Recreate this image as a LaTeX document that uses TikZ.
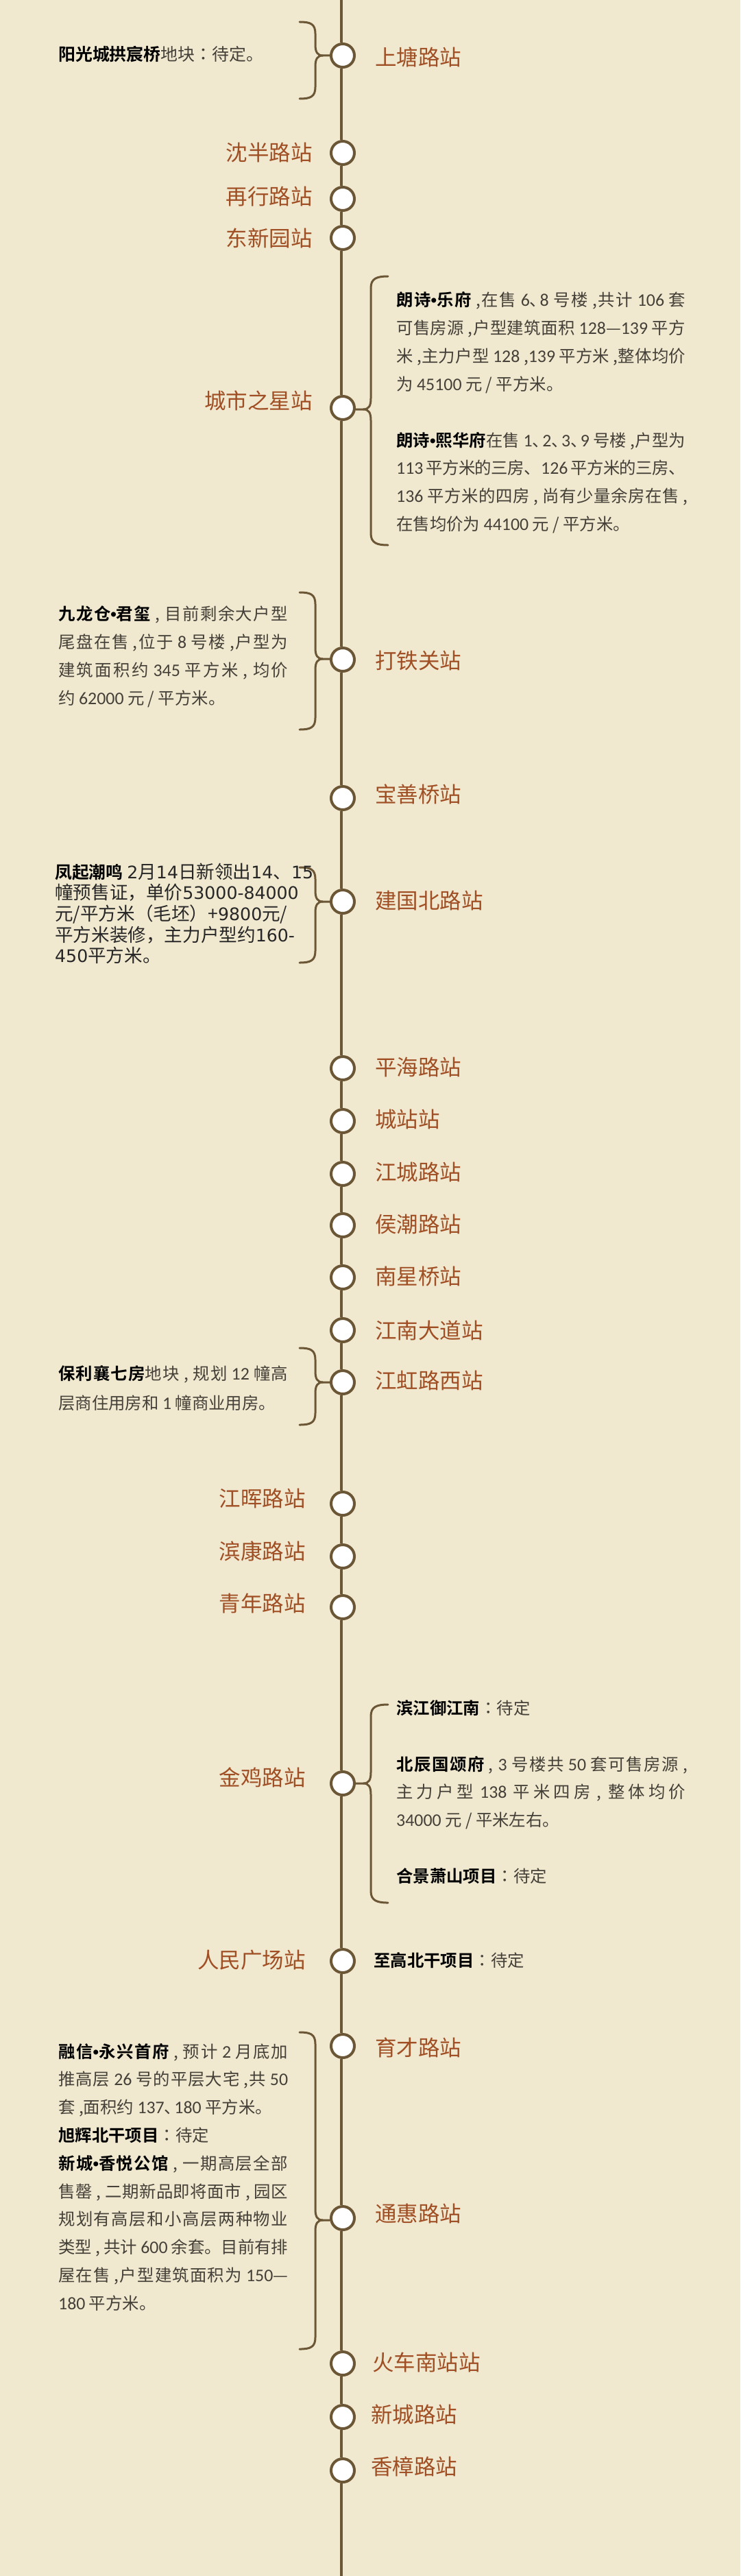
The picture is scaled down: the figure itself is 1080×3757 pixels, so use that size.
\documentclass[tikz,border=0pt]{standalone}
\usepackage{fontspec}
\setmainfont[BoldFont={Noto Sans CJK SC Bold}]{Noto Sans CJK SC}
\newfontfamily\tcfont{Noto Sans CJK TC}
\newfontfamily\carl[Scale=1.06]{Carlito}
\newfontfamily\dvs{DejaVu Sans}
\newfontfamily\libs{Liberation Sans}
\definecolor{bgc}{HTML}{F0E8CF}
\definecolor{linec}{HTML}{6B5636}
\definecolor{labc}{HTML}{A04F25}
\definecolor{txtc}{HTML}{444038}
\XeTeXlinebreaklocale "zh"
\XeTeXlinebreakskip=0pt plus 4pt minus 1pt
\newcommand\cn{{\tcfont ：}}
\newcommand\dg[1]{{\carl #1}}
\newcommand\dk[1]{{\dvs\fontsize{25.2}{31}\selectfont #1}}
\newcommand\bu{{\libs\bfseries •}}
\newcommand\dn{、\kern-.4em }
\newcommand\bd[1]{\textcolor{black}{\textbf{#1}}}
\newcommand\jl[2]{{\hsize=#1pt\parindent=0pt\parfillskip=0pt\leftskip=0pt\rightskip=0pt\tolerance=10000\noindent #2\par}}
\newcommand\pl[1]{\hbox{#1}}
\newcommand\blk[2]{\vtop{\baselineskip=#1pt \lineskiplimit=-100pt #2}}
\hbadness=10000
\tikzset{
  x=1pt,y=-1pt,
  stn/.style={circle,draw=linec,fill=white,line width=4pt,minimum size=34pt,inner sep=0pt},
  spine/.style={draw=linec,line width=3.5pt},
  brc/.style={draw=linec,line width=3pt,line cap=round},
  lab/.style={inner sep=0pt,text=labc,font=\fontsize{31.5}{31.5}\selectfont},
  txt/.style={inner sep=0pt,anchor=base west,text=txtc,font=\fontsize{24.4}{41}\selectfont},
  txtb/.style={inner sep=0pt,anchor=base west,text=black!85,font=\fontsize{26.6}{31}\selectfont},
}
% left label / right label stations: id, circle y, label x, label centre y, text
\newcommand\stL[5]{\node[stn] (#1) at (500,#2) {};\node[lab,anchor=base east] (#1l) at (#3,{#4+11.8}) {#5};}
\newcommand\stR[5]{\node[stn] (#1) at (500,#2) {};\node[lab,anchor=base west] (#1l) at (#3,{#4+11.8}) {#5};}
% brace opening left: station, top, bottom, tip y
\newcommand\braceL[4]{\draw[brc] (437,#2) .. controls +(16,0) and +(0,-14) .. (460,{#2+17}) -- (460,{#4-16})
  .. controls +(0,11) and +(-8,0) .. (471,#4) -- (#1.west |- 0,#4);
  \draw[brc] (471,#4) .. controls +(-8,0) and +(0,-11) .. (460,{#4+16}) -- (460,{#3-17})
  .. controls +(0,14) and +(16,0) .. (437,#3);}
\newcommand\braceR[4]{\draw[brc] (566,#2) .. controls +(-16,0) and +(0,-14) .. (541,{#2+17}) -- (541,{#4-16})
  .. controls +(0,11) and +(8,0) .. (530,#4) -- (#1.east |- 0,#4);
  \draw[brc] (530,#4) .. controls +(8,0) and +(0,-11) .. (541,{#4+16}) -- (541,{#3-17})
  .. controls +(0,14) and +(-16,0) .. (566,#3);}
\begin{document}
\begin{tikzpicture}
\useasboundingbox[fill=bgc] (0,0) rectangle (1080,3757);
\coordinate (top) at (498,0);
\coordinate (bot) at (498,3757);
\stR{s1}{81}{547}{84}{上塘路站}
\stL{s2}{223}{456}{223}{沈半路站}
\stL{s3}{290}{456}{287}{再行路站}
\stL{s4}{347}{456}{348}{东新园站}
\stL{s5}{595}{456}{585}{城市之星站}
\stR{s6}{962}{547}{964}{打铁关站}
\stR{s7}{1164}{547}{1159}{宝善桥站}
\stR{s8}{1315}{547}{1314}{建国北路站}
\stR{s9}{1558}{547}{1557}{平海路站}
\stR{s10}{1635}{547}{1633}{城站站}
\stR{s11}{1712}{547}{1710}{江城路站}
\stR{s12}{1787}{547}{1786}{侯潮路站}
\stR{s13}{1863}{547}{1862}{南星桥站}
\stR{s14}{1940}{547}{1941}{江南大道站}
\stR{s15}{2016}{547}{2014}{江虹路西站}
\stL{s16}{2193}{446}{2186}{江晖路站}
\stL{s17}{2270}{446}{2263}{滨康路站}
\stL{s18}{2344}{446}{2339}{青年路站}
\stL{s19}{2601}{446}{2593}{金鸡路站}
\stL{s20}{2860}{446}{2859}{人民广场站}
\stR{s21}{2984}{547}{2987}{育才路站}
\stR{s22}{3235}{547}{3229}{通惠路站}
\stR{s23}{3447}{543}{3446}{火车南站站}
\stR{s24}{3525}{541}{3522}{新城路站}
\stR{s25}{3603}{541}{3598}{香樟路站}
% spine
\draw[spine] (top) -- ([xshift=-2pt]s1.north);
\foreach \a/\b in {s1/s2,s2/s3,s3/s4,s4/s5,s5/s6,s6/s7,s7/s8,s8/s9,s9/s10,s10/s11,s11/s12,s12/s13,s13/s14,s14/s15,s15/s16,s16/s17,s17/s18,s18/s19,s19/s20,s20/s21,s21/s22,s22/s23,s23/s24,s24/s25}
  \draw[spine] ([xshift=-2pt]\a.south) -- ([xshift=-2pt]\b.north);
\draw[spine] ([xshift=-2pt]s25.south) -- (bot);
% braces
\braceL{s1}{32}{144}{81}
\braceR{s5}{403}{795}{597}
\braceL{s6}{864}{1064}{961}
\braceL{s8}{1265}{1404}{1315}
\braceL{s15}{1966}{2078}{2016}
\braceR{s19}{2486}{2775}{2601}
\braceL{s22}{2964}{3426}{3238}
% texts
\node[txt,font=\fontsize{24.9}{41}\selectfont] (t1) at (85,89) {\bd{阳光城拱宸桥}地块\cn 待定。};
\node[txt] (t2) at (578,446) {\blk{41}{
  \jl{422}{\bd{朗诗\bu 乐府} ,在售 \dg{6}\dn\dg{8} 号楼 ,共计 \dg{106} 套}
  \jl{422}{可售房源 ,户型建筑面积 \dg{128}—\dg{139} 平方}
  \jl{422}{米 ,主力户型 \dg{128} ,\dg{139} 平方米 ,整体均价}
  \pl{为 \dg{45100} 元 / 平方米。}}};
\node[txt] (t3) at (578,651) {\blk{40.8}{
  \jl{422}{\bd{朗诗\bu 熙华府}在售 \dg{1}\dn\dg{2}\dn\dg{3}\dn\dg{9} 号楼 ,户型为}
  \jl{422}{\dg{113} 平方米的三房、\dg{126} 平方米的三房、}
  \jl{425}{\dg{136} 平方米的四房 , 尚有少量余房在售 ,}
  \pl{在售均价为 \dg{44100} 元 / 平方米。}}};
\node[txt] (t4) at (85,904) {\blk{41}{
  \jl{335}{\bd{九龙仓\bu 君玺} , 目前剩余大户型}
  \jl{335}{尾盘在售 ,位于 \dg{8} 号楼 ,户型为}
  \jl{335}{建筑面积约 \dg{345} 平方米 , 均价}
  \pl{约 \dg{62000} 元 / 平方米。}}};
\node[txtb] (t5) at (80,1281) {\blk{30.7}{
  \pl{\bd{\fontsize{24.8}{31}\selectfont 凤起潮鸣} \dk{2}月\dk{14}日新领出\dk{14}、\dk{15}}
  \pl{幢预售证，单价\dk{53000-84000}}
  \pl{元/平方米（毛坯）+\dk{9800}元/}
  \pl{平方米装修，主力户型约\dk{160-}}
  \pl{\dk{450}平方米。}}};
\node[txt] (t6) at (85,2012) {\blk{43}{
  \jl{335}{\bd{保利襄七房}地块 , 规划 \dg{12} 幢高}
  \pl{层商住用房和 \dg{1} 幢商业用房。}}};
\node[txt] (t7) at (578,2500) {\bd{滨江御江南}\cn 待定};
\node[txt] (t8) at (578,2582) {\blk{40.6}{
  \jl{425}{\bd{北辰国颂府} , \dg{3} 号楼共 \dg{50} 套可售房源 ,}
  \jl{422}{主力户型 \dg{138} 平米四房 , 整体均价}
  \pl{\dg{34000} 元 / 平米左右。}}};
\node[txt] (t9) at (578,2745) {\bd{合景萧山项目}\cn 待定};
\node[txt] (t10) at (545,2868) {\bd{至高北干项目}\cn 待定};
\node[txt] (t11) at (85,3001) {\blk{40.8}{
  \jl{335}{\bd{融信\bu 永兴首府} , 预计 \dg{2} 月底加}
  \jl{335}{推高层 \dg{26} 号的平层大宅 ,共 \dg{50}}
  \pl{套 ,面积约 \dg{137}\dn\dg{180} 平方米。}
  \pl{\bd{旭辉北干项目}\cn 待定}
  \jl{335}{\bd{新城\bu 香悦公馆} , 一期高层全部}
  \jl{335}{售罄 , 二期新品即将面市 , 园区}
  \jl{335}{规划有高层和小高层两种物业}
  \jl{335}{类型 , 共计 \dg{600} 余套。目前有排}
  \jl{335}{屋在售 ,户型建筑面积为 \dg{150}—}
  \pl{\dg{180} 平方米。}}};
\end{tikzpicture}
\end{document}
